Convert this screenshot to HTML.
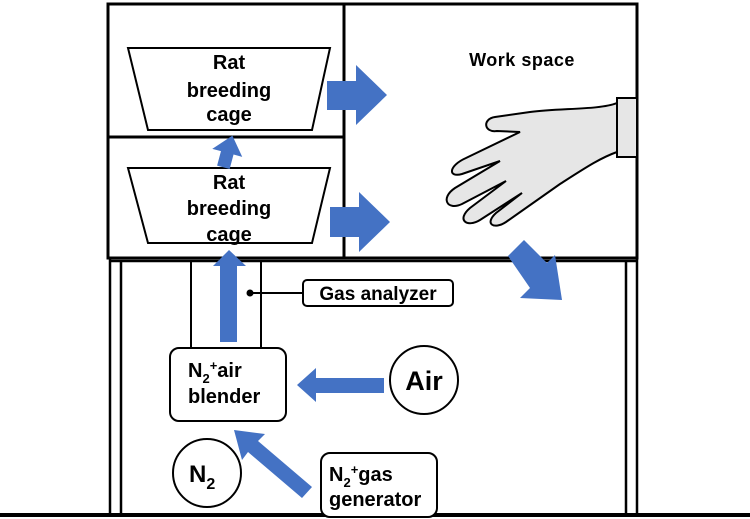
<!DOCTYPE html>
<html><head><meta charset="utf-8"><style>
html,body{margin:0;padding:0;background:#fff;}
svg{display:block;}
text{font-family:"Liberation Sans",sans-serif;font-weight:bold;fill:#000;}
</style></head><body>
<svg width="750" height="519" viewBox="0 0 750 519" xmlns="http://www.w3.org/2000/svg">
<g fill="none" stroke="#000" stroke-width="3">
<rect x="108" y="4" width="529" height="254"/>
<line x1="344" y1="4" x2="344" y2="258"/>
<line x1="108" y1="137" x2="344" y2="137"/>
</g>
<g stroke="#000" stroke-width="2.5">
<line x1="110" y1="258" x2="110" y2="514"/>
<line x1="121" y1="262" x2="121" y2="514"/>
<line x1="626" y1="262" x2="626" y2="514"/>
<line x1="637" y1="258" x2="637" y2="514"/>
<line x1="110" y1="261" x2="637" y2="261"/>
</g>
<line x1="0" y1="515" x2="750" y2="515" stroke="#000" stroke-width="4"/>
<g fill="#fff" stroke="#000" stroke-width="2">
<polygon points="128,48 330,48 312,130 148,130"/>
<polygon points="128,168 330,168 312,243 148,243"/>
</g>
<g font-size="20" text-anchor="middle">
<text x="229" y="69">Rat</text><text x="229" y="97">breeding</text><text x="229" y="121">cage</text>
<text x="229" y="189">Rat</text><text x="229" y="215">breeding</text><text x="229" y="241">cage</text>
</g>
<text x="522" y="66" font-size="18" text-anchor="middle" letter-spacing="0.5">Work space</text>
<g fill="#4472c4">
<polygon points="327,81 356,81 356,65 387,95 356,125 356,110 327,110"/>
<polygon points="330,207 359,207 359,192 390,222 359,252 359,237 330,237"/>
<polygon points="221,168 221,153 212,153 228,135 243,153 234,153 234,168" transform="rotate(15 228 152)"/>
<polygon points="220,342 220,266 213,266 229,250 246,266 237,266 237,342"/>
<polygon points="384,378 316,378 316,368 297,385 316,402 316,393 384,393"/>
<polygon points="302,498 248,452 242,460 234,430 265,434 258,441 312,487"/>
<polygon points="508,256 524,240 547,263 555,255 562,300 520,298 530,288"/>
</g>
<g fill="none" stroke="#000" stroke-width="2">
<line x1="191" y1="260" x2="191" y2="348"/>
<line x1="261" y1="260" x2="261" y2="348"/>
<line x1="250" y1="293" x2="303" y2="293"/>
<rect x="303" y="280" width="150" height="26" rx="4" fill="#fff"/>
<rect x="170" y="348" width="116" height="73" rx="9" fill="#fff"/>
<circle cx="424" cy="380" r="34" fill="#fff"/>
<circle cx="207" cy="473" r="34" fill="#fff"/>
<rect x="321" y="453" width="116" height="64" rx="9" fill="#fff"/>
</g>
<circle cx="250" cy="293" r="3.5" fill="#000"/>
<text x="378" y="300" font-size="19" text-anchor="middle">Gas analyzer</text>
<text x="188" y="377" font-size="20">N<tspan font-size="13" dy="6">2</tspan><tspan font-size="13" dy="-13">+</tspan><tspan dy="7">air</tspan></text>
<text x="188" y="403" font-size="20">blender</text>
<text x="424" y="390" font-size="27" text-anchor="middle">Air</text>
<text x="189" y="482" font-size="24">N<tspan font-size="16" dy="7">2</tspan></text>
<text x="329" y="481" font-size="20">N<tspan font-size="13" dy="6">2</tspan><tspan font-size="13" dy="-13">+</tspan><tspan dy="7">gas</tspan></text>
<text x="329" y="506" font-size="20">generator</text>
<rect x="617" y="98" width="20" height="59" fill="#e6e6e6" stroke="#000" stroke-width="2"/>
<path d="M617,103 C600,110 560,108 530,112 L495,117 C482,119 484,133 497,131 L520,132 L466,158 C448,166 448,178 462,174 L500,161 L455,188 C440,198 447,211 462,204 L506,181 L470,208 C456,220 467,228 480,220 L522,193 L496,213 C484,224 494,230 506,222 L560,184 C585,168 600,158 617,152 Z" fill="#e6e6e6" stroke="#000" stroke-width="2"/>
</svg>
</body></html>
